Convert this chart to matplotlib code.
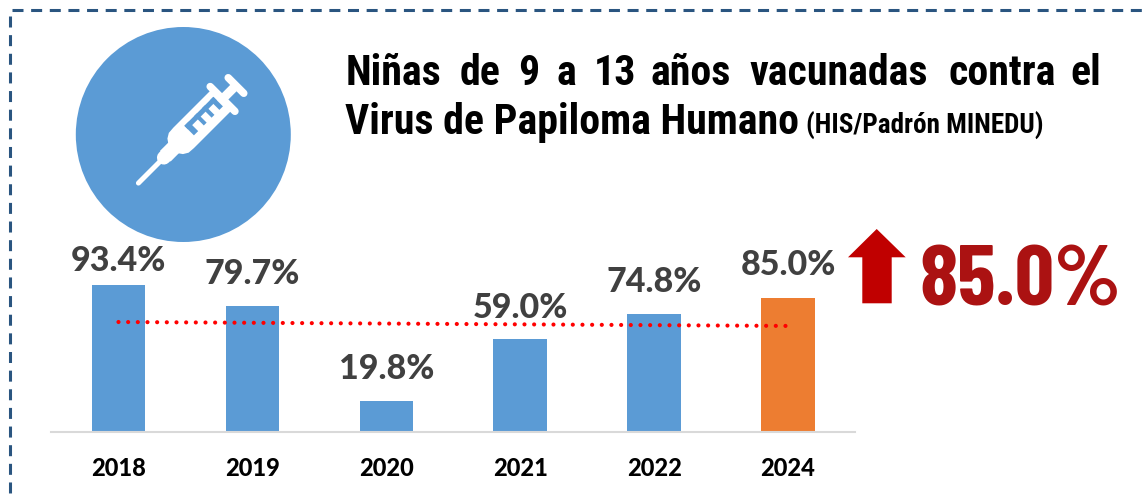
import numpy as np
import matplotlib
matplotlib.use("Agg")
import matplotlib.pyplot as plt
from matplotlib.patches import Circle, Polygon
from matplotlib.lines import Line2D

years = ["2018", "2019", "2020", "2021", "2022", "2024"]
values = [93.4, 79.7, 19.8, 59.0, 74.8, 85.0]
labels = ["93.4%", "79.7%", "19.8%", "59.0%", "74.8%", "85.0%"]
bar_colors = ["#5B9BD5"] * 5 + ["#ED7D31"]
trend_x = [0, 5.0]
trend_y = [69.8, 67.3]
title_line1 = ["Niñas", "de", "9", "a", "13", "años", "vacunadas", "contra", "el"]
title_line2 = "Virus de Papiloma Humano"
title_source = "(HIS/Padrón MINEDU)"
headline = "85.0%"

W, H = 1145, 501
fig = plt.figure(figsize=(W / 100, H / 100), dpi=100, facecolor="white")

# overlay in pixel coordinates
ov = fig.add_axes([0, 0, 1, 1], zorder=0)
ov.set_xlim(0, W); ov.set_ylim(H, 0); ov.axis("off")

# dashed frame
dash = dict(color="#2A5580", lw=2.2, dashes=(3.6, 2.5), dash_capstyle="butt")
ov.add_line(Line2D([12.3, W], [10, 10], **dash))
ov.add_line(Line2D([10.3, 10.3], [15.7, H], **dash))

# badge
ov.add_patch(Circle((183.3, 134.5), 107.5, fc="#5B9BD5", ec="none"))
tip = np.array([137.0, 184.5])
eu = np.array([1, -1]) / np.sqrt(2)
ev = np.array([1, 1]) / np.sqrt(2)
def P(u, v):
    return tip + u * eu + v * ev
def rect(u0, u1, v0, v1, c="white", z=3):
    ov.add_patch(Polygon([P(u0, v0), P(u1, v0), P(u1, v1), P(u0, v1)], fc=c, ec="none", zorder=z))
def seg(a, b, lw, c="white", z=3):
    pa, pb = P(*a), P(*b)
    ov.add_line(Line2D([pa[0], pb[0]], [pa[1], pb[1]], color=c, lw=lw, solid_capstyle="round", zorder=z))
seg((2, 0), (35, 0), 3.6)
seg((38, 0), (44, 0), 10)
rect(40, 60, -7.5, 7.5)
# barrel with rounded nose
ov.add_patch(Polygon([P(u, v) for u, v in [(121, -14.5), (121, 14.5), (66, 14.5), (59, 14), (54, 11), (50.5, 6), (49.5, 0), (50.5, -6), (54, -11), (59, -14), (66, -14.5)]], fc="white", ec="none", zorder=3))
seg((121, -17.5), (121, 17.5), 5.4)
rect(121, 140, -4.5, 4.5)
seg((140, -11), (140, 11), 5.4)
# scale: blue comb on the barrel
rect(75, 116, -8, -3, c="#5B9BD5", z=4)
for u0, u1 in ((75, 81), (89, 93), (100, 104), (111, 116)):
    rect(u0, u1, -8, 5.5, c="#5B9BD5", z=4)

# title
tfont = dict(family="Roboto Condensed", weight="bold", color="black", va="baseline", ha="left")
xs = [346, 460, 518, 556, 594, 650, 749, 948, 1070]
for s, x in zip(title_line1, xs):
    ov.text(x, 85, s, fontsize=30.2, **tfont)
ov.text(345, 134, title_line2, fontsize=30.2, **tfont)
ov.text(806, 134, title_source, fontsize=19.5, **tfont)

# arrow and headline
ov.add_patch(Polygon([(876.7, 229), (905.7, 257.3), (891.7, 257.3), (891.7, 303.3), (862.3, 303.3), (862.3, 257.3), (848, 257.3)], fc="#C00000", ec="none"))
ov.text(919, 306, headline, family="Barlow Condensed", weight="bold", fontsize=62.5, color="#AB1212", ha="left", va="baseline")

# bar chart
left, right, top, bottom = 51.5, 855, 200, 432
ax = fig.add_axes([left / W, 1 - bottom / H, (right - left) / W, (bottom - top) / H], zorder=2)
ax.patch.set_alpha(0)
x = np.arange(len(years))
ax.bar(x, values, width=0.4, color=bar_colors, zorder=2)
ax.plot(trend_x, trend_y, color="#FF0000", lw=3.0, ls=(0, (0.01, 2.31)), dash_capstyle="round", zorder=3, clip_on=False)
ax.set_xlim(-0.5, 5.5)
ax.set_ylim(0, (bottom - top) / 1.576)
ax.set_yticks([])
for s in ("top", "left", "right"):
    ax.spines[s].set_visible(False)
ax.spines["bottom"].set_color("#D9D9D9")
ax.spines["bottom"].set_linewidth(1.5)
ax.set_xticks(x, years)
ax.tick_params(axis="x", length=0, pad=18)
for t in ax.get_xticklabels():
    t.set_family("Lato"); t.set_weight(900); t.set_fontsize(17); t.set_color("black")
offs = [24, 32, 32, 31, 32, 33]
for xi, v, s, o in zip(x, values, labels, offs):
    ax.annotate(s, (xi, v), xytext=(0, o * 0.72), textcoords="offset points", ha="center", va="center",
                family="Lato", weight=900, fontsize=24.5, color="#404040", annotation_clip=False)

fig.savefig("out.png", dpi=100)
